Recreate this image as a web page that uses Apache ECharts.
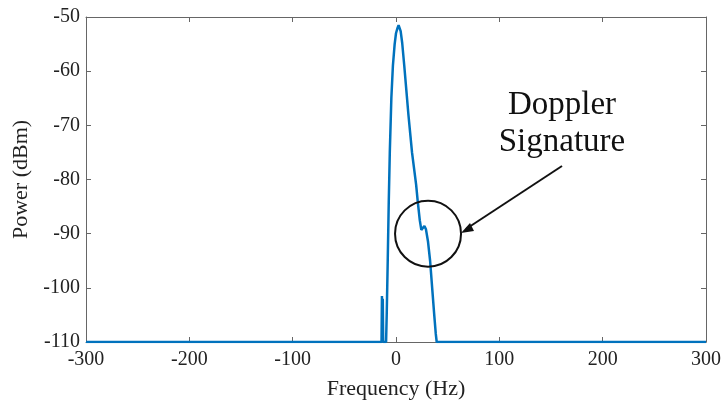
<!DOCTYPE html>
<html>
<head>
<meta charset="utf-8">
<script src="https://cdn.jsdelivr.net/npm/echarts@6/dist/echarts.min.js"></script>
<style>
  html, body { margin: 0; padding: 0; background: #fff; }
  #chart { width: 724px; height: 407px; }
</style>
</head>
<body>
<div id="chart"></div>
<script>
// Spectrum samples: frequency (Hz) and received power (dBm)
const freqHz = [
  -300, -14, -13.6, -13.2, -12.8, -12.4, -9.6,
  -9, -8, -7, -6, -4.5, -3, -1.3, 0, 1.5, 2.5, 3.5, 4.5,
  6, 8, 10, 12, 14, 15.5, 17.5, 19.5, 21, 23, 24.5,
  26, 27.5, 29, 31, 33, 35, 37, 38.5, 39.4, 300
];
const powerDbm = [
  -110, -110, -101.5, -110, -102, -110, -110,
  -105, -95, -84, -75, -65, -59, -55, -53, -52, -51.5, -51.7, -52.6,
  -54.8, -59, -63.5, -68, -72, -75, -78, -81, -84, -87.5, -89.3,
  -89, -88.6, -89.2, -91.5, -95, -100, -105, -108.5, -110, -110
];
const xTicks = [-300, -200, -100, 0, 100, 200, 300];
const yTicks = [-110, -100, -90, -80, -70, -60, -50];
const noteLines = ['Doppler', 'Signature'];

const serif = '"Liberation Serif", "DejaVu Serif", serif';
const axisGrey = '#666';

const chart = echarts.init(document.getElementById('chart'), null, { renderer: 'canvas' });

const boxAxis = {
  axisLine: { show: true, onZero: false, lineStyle: { color: axisGrey, width: 1 } },
  axisTick: { show: true, inside: true, length: 5, lineStyle: { color: axisGrey } },
  axisLabel: { show: false },
  splitLine: { show: false }
};

chart.setOption({
  animation: false,
  backgroundColor: '#fff',
  grid: { left: 86, right: 18, top: 17, bottom: 65 },
  xAxis: [
    {
      type: 'value',
      min: xTicks[0], max: xTicks[xTicks.length - 1], interval: 100,
      name: 'Frequency (Hz)', nameLocation: 'middle', nameGap: 36,
      nameTextStyle: { fontFamily: serif, fontSize: 22, color: '#222' },
      axisLine: { show: true, onZero: false, lineStyle: { color: axisGrey, width: 1 } },
      axisTick: { show: true, inside: true, length: 5, lineStyle: { color: axisGrey } },
      axisLabel: { fontFamily: serif, fontSize: 20, color: '#222', margin: 8 },
      splitLine: { show: false }
    },
    Object.assign({ type: 'value', position: 'top', min: -300, max: 300, interval: 100 }, boxAxis)
  ],
  yAxis: [
    {
      type: 'value',
      min: yTicks[0], max: yTicks[yTicks.length - 1], interval: 10,
      name: 'Power (dBm)', nameLocation: 'middle', nameGap: 49,
      nameTextStyle: { fontFamily: serif, fontSize: 22, color: '#222' },
      axisLine: { show: true, onZero: false, lineStyle: { color: axisGrey, width: 1 } },
      axisTick: { show: true, inside: true, length: 5, lineStyle: { color: axisGrey } },
      axisLabel: { fontFamily: serif, fontSize: 20, color: '#222', margin: 6 },
      splitLine: { show: false }
    },
    Object.assign({ type: 'value', position: 'right', min: -110, max: -50, interval: 10 }, boxAxis)
  ],
  series: [{
    type: 'line',
    data: freqHz.map((f, i) => [f, powerDbm[i]]),
    showSymbol: false,
    smooth: false,
    lineStyle: { color: '#0072BD', width: 2.5 },
    z: 5
  }]
});

// Annotation: circle around the secondary bump, arrow and label
const c = chart.convertToPixel({ xAxisIndex: 0, yAxisIndex: 0 }, [31, -90]);
chart.setOption({
  graphic: [
    {
      type: 'circle',
      shape: { cx: c[0], cy: c[1], r: 33 },
      style: { fill: 'none', stroke: '#111', lineWidth: 2 },
      z: 10
    },
    {
      type: 'line',
      shape: { x1: 562, y1: 166, x2: 466, y2: 229 },
      style: { stroke: '#111', lineWidth: 2 },
      z: 10
    },
    {
      type: 'polygon',
      shape: { points: [[461, 233], [470, 223], [474, 231]] },
      style: { fill: '#111' },
      z: 10
    },
    {
      type: 'text',
      x: 562, y: 105,
      style: {
        text: noteLines[0], fontFamily: serif, fontSize: 33, fill: '#111',
        align: 'center', verticalAlign: 'middle'
      },
      z: 10
    },
    {
      type: 'text',
      x: 562, y: 142,
      style: {
        text: noteLines[1], fontFamily: serif, fontSize: 33, fill: '#111',
        align: 'center', verticalAlign: 'middle'
      },
      z: 10
    }
  ]
});
</script>
</body>
</html>
